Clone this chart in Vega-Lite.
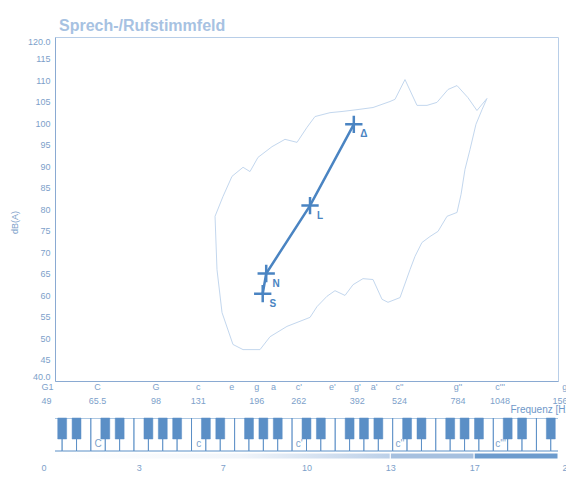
{
  "$schema": "https://vega.github.io/schema/vega-lite/v6.json",
  "padding": {"left": 9, "top": 17, "right": 0, "bottom": 0},
  "background": "white",
  "config": {
    "font": "Liberation Sans",
    "view": {"stroke": "#b8cee8"},
    "axis": {
      "labelFont": "Liberation Sans",
      "labelColor": "#7d9fca",
      "labelFontSize": 9,
      "titleFont": "Liberation Sans",
      "titleColor": "#7d9fca",
      "titleFontSize": 9,
      "titleFontWeight": "normal",
      "domainColor": "#8aaad2",
      "ticks": false,
      "grid": false,
      "labelOverlap": false
    }
  },
  "bounds": "flush",
  "spacing": 37,
  "vconcat": [
    {
      "width": 503,
      "height": 344,
      "title": {"text": "Sprech-/Rufstimmfeld", "anchor": "start", "frame": "group", "dx": 4, "fontSize": 16, "fontWeight": "bold", "color": "#a7c2e2", "offset": 3, "font": "Liberation Sans"},
      "encoding": {
        "x": {
          "field": "f", "type": "quantitative",
          "scale": {"type": "log", "domain": [49, 1568], "nice": false},
          "axis": {
            "values": [49, 65.5, 98, 131, 165, 196, 220, 262, 330, 392, 440, 524, 784, 1048, 1568],
            "labelExpr": "datum.value == 49 ? [\"G1\",\"49\"] : datum.value == 65.5 ? [\"C\",\"65.5\"] : datum.value == 98 ? [\"G\",\"98\"] : datum.value == 131 ? [\"c\",\"131\"] : datum.value == 165 ? [\"e\",\"\"] : datum.value == 196 ? [\"g\",\"196\"] : datum.value == 220 ? [\"a\",\"\"] : datum.value == 262 ? [\"c'\",\"262\"] : datum.value == 330 ? [\"e'\",\"\"] : datum.value == 392 ? [\"g'\",\"392\"] : datum.value == 440 ? [\"a'\",\"\"] : datum.value == 524 ? [\"c''\",\"524\"] : datum.value == 784 ? [\"g''\",\"784\"] : datum.value == 1048 ? [\"c'''\",\"1048\"] : [\"g'''\",\"1568\"]",
            "labelOverlap": false,
            "labelFlush": true,
            "labelFlushOffset": 14,
            "labelPadding": 1,
            "labelLineHeight": 14,
            "title": "Frequenz [Hz]",
            "titleX": 455,
            "titleY": 28,
            "titleAlign": "left",
            "titleBaseline": "middle",
            "titleFontSize": 10,
            "titleColor": "#6f98c9"
          }
        },
        "y": {
          "field": "db", "type": "quantitative",
          "scale": {"domain": [40, 120], "nice": false, "zero": false},
          "axis": {
            "values": [40, 45, 50, 55, 60, 65, 70, 75, 80, 85, 90, 95, 100, 105, 110, 115, 120],
            "tickCount": 17,
            "labelExpr": "datum.value == 120 || datum.value == 40 ? format(datum.value, '.1f') : format(datum.value, 'd')",
            "labelOverlap": false,
            "labelFlush": true,
            "labelPadding": 5,
            "title": "dB(A)",
            "titlePadding": 8,
            "titleY": 185
          }
        }
      },
      "layer": [
        {
          "data": {"values": [
            {"f":147.6,"db":78.3,"o":1},{"f":155.9,"db":82.9,"o":2},{"f":165.9,"db":87.6,"o":3},{"f":179,"db":89.7,"o":4},
            {"f":187.8,"db":88.7,"o":5},{"f":198.4,"db":92,"o":6},{"f":218.6,"db":94.5,"o":7},{"f":239,"db":96.2,"o":8},
            {"f":259.7,"db":95.5,"o":9},{"f":278.2,"db":99,"o":10},{"f":293.9,"db":101.5,"o":11},{"f":325.9,"db":102.4,"o":12},
            {"f":356.4,"db":102.7,"o":13},{"f":392.5,"db":103.1,"o":14},{"f":438.3,"db":103.6,"o":15},{"f":492.7,"db":105,"o":16},
            {"f":510,"db":105.5,"o":17},{"f":546.4,"db":110.1,"o":18},{"f":593.5,"db":104.1,"o":19},{"f":636,"db":104.1,"o":20},
            {"f":681,"db":104.8,"o":21},{"f":735,"db":107.8,"o":22},{"f":782,"db":108.7,"o":23},{"f":843,"db":105.9,"o":24},
            {"f":897,"db":102.9,"o":25},{"f":961,"db":105.7,"o":26},{"f":929,"db":103.1,"o":27},{"f":891,"db":99.7,"o":28},
            {"f":855,"db":93.8,"o":29},{"f":826,"db":89.2,"o":30},{"f":804,"db":83.4,"o":31},{"f":782,"db":79.2,"o":32},
            {"f":730,"db":78.3,"o":33},{"f":686,"db":74.8,"o":34},{"f":649,"db":73.6,"o":35},{"f":614,"db":72.2,"o":36},
            {"f":585.5,"db":69,"o":37},{"f":565.6,"db":65.9,"o":38},{"f":528,"db":59.4,"o":39},{"f":486,"db":58.3,"o":40},
            {"f":466.4,"db":59,"o":41},{"f":438.3,"db":63.6,"o":42},{"f":409,"db":63.8,"o":43},{"f":382,"db":62.4,"o":44},
            {"f":361.4,"db":59.9,"o":45},{"f":337.3,"db":61,"o":46},{"f":319.2,"db":59.7,"o":47},{"f":298,"db":57.3,"o":48},
            {"f":284,"db":54.8,"o":49},{"f":242.3,"db":52.7,"o":50},{"f":215.6,"db":50.3,"o":51},{"f":201.2,"db":47.3,"o":52},
            {"f":179,"db":47.3,"o":53},{"f":167,"db":48.5,"o":54},{"f":154.9,"db":55.9,"o":55},{"f":149.6,"db":65.9,"o":56},
            {"f":147.6,"db":78.3,"o":57}
          ]},
          "mark": {"type": "line", "color": "#c3d7ee", "strokeWidth": 1},
          "encoding": {
            "order": {"field": "o", "type": "quantitative"}
          }
        },
        {
          "data": {"values": [
            {"p": "S", "f": 205, "db": 60.3, "o": 1},
            {"p": "N", "f": 210, "db": 65, "o": 2},
            {"p": "L", "f": 284, "db": 80.8, "o": 3},
            {"p": "Δ", "f": 384, "db": 99.7, "o": 4}
          ]},
          "layer": [
            {
              "mark": {"type": "line", "color": "#4a84c2", "strokeWidth": 2.5},
              "encoding": {
                "order": {"field": "o", "type": "quantitative"}
              }
            },
            {
              "mark": {"type": "point", "shape": "M-1,0L1,0M0,-1L0,1", "filled": false, "stroke": "#4a84c2", "strokeWidth": 2.5, "size": 300, "opacity": 1},
              "encoding": {}
            },
            {
              "mark": {"type": "text", "dx": 10, "dy": 10, "fontWeight": "bold", "fontSize": 10, "color": "#4a84c2", "font": "Liberation Sans"},
              "encoding": {
                "text": {"field": "p"}
              }
            }
          ]
        }
      ]
    },
    {
      "width": 503,
      "height": 41,
      "view": {"stroke": null},
      "resolve": {"scale": {"x": "independent"}, "axis": {"x": "independent"}},
      "layer": [
        {
          "layer": [
            {
              "data": {"values": [
                {"k0":-0.5,"k1":0.5},{"k0":0.5,"k1":1.5},{"k0":1.5,"k1":2.5},{"k0":2.5,"k1":3.5},{"k0":3.5,"k1":4.5},{"k0":4.5,"k1":5.5},
                {"k0":5.5,"k1":6.5},{"k0":6.5,"k1":7.5},{"k0":7.5,"k1":8.5},{"k0":8.5,"k1":9.5},{"k0":9.5,"k1":10.5},{"k0":10.5,"k1":11.5},
                {"k0":11.5,"k1":12.5},{"k0":12.5,"k1":13.5},{"k0":13.5,"k1":14.5},{"k0":14.5,"k1":15.5},{"k0":15.5,"k1":16.5},{"k0":16.5,"k1":17.5},
                {"k0":17.5,"k1":18.5},{"k0":18.5,"k1":19.5},{"k0":19.5,"k1":20.5},{"k0":20.5,"k1":21.5},{"k0":21.5,"k1":22.5},{"k0":22.5,"k1":23.5},
                {"k0":23.5,"k1":24.5},{"k0":24.5,"k1":25.5},{"k0":25.5,"k1":26.5},{"k0":26.5,"k1":27.5},{"k0":27.5,"k1":28.5},{"k0":28.5,"k1":29.5},
                {"k0":29.5,"k1":30.5},{"k0":30.5,"k1":31.5},{"k0":31.5,"k1":32.5},{"k0":32.5,"k1":33.5},{"k0":33.5,"k1":34.5},{"k0":34.5,"k1":35.5}
              ]},
              "mark": {"type": "rect", "fill": "white", "stroke": "#5b8fc6", "strokeWidth": 1, "clip": true},
              "encoding": {
                "x": {"field": "k0", "type": "quantitative", "scale": {"domain": [0, 35], "nice": false, "zero": false}, "axis": null},
                "x2": {"field": "k1"},
                "y": {"datum": 8, "type": "quantitative", "scale": {"domain": [0, 41], "nice": false}, "axis": null},
                "y2": {"datum": 41}
              }
            },
            {
              "data": {"values": [
                {"k0":0.19,"k1":0.81},{"k0":1.19,"k1":1.81},{"k0":3.19,"k1":3.81},{"k0":4.19,"k1":4.81},{"k0":6.19,"k1":6.81},
                {"k0":7.19,"k1":7.81},{"k0":8.19,"k1":8.81},{"k0":10.19,"k1":10.81},{"k0":11.19,"k1":11.81},{"k0":13.19,"k1":13.81},
                {"k0":14.19,"k1":14.81},{"k0":15.19,"k1":15.81},{"k0":17.19,"k1":17.81},{"k0":18.19,"k1":18.81},{"k0":20.19,"k1":20.81},
                {"k0":21.19,"k1":21.81},{"k0":22.19,"k1":22.81},{"k0":24.19,"k1":24.81},{"k0":25.19,"k1":25.81},{"k0":27.19,"k1":27.81},
                {"k0":28.19,"k1":28.81},{"k0":29.19,"k1":29.81},{"k0":31.19,"k1":31.81},{"k0":32.19,"k1":32.81},{"k0":34.19,"k1":34.81}
              ]},
              "mark": {"type": "rect", "fill": "#5b8fc6", "stroke": "#5b8fc6", "strokeWidth": 0.5},
              "encoding": {
                "x": {"field": "k0", "type": "quantitative", "axis": null},
                "x2": {"field": "k1"},
                "y": {"datum": 20, "type": "quantitative", "axis": null},
                "y2": {"datum": 41}
              }
            },
            {
              "data": {"values": [
                {"k": 3, "t": "C"}, {"k": 10, "t": "c"}, {"k": 17, "t": "c'"}, {"k": 24, "t": "c''"}, {"k": 31, "t": "c'''"}
              ]},
              "mark": {"type": "text", "fontSize": 10, "color": "#7d9fca", "baseline": "middle", "font": "Liberation Sans"},
              "encoding": {
                "x": {"field": "k", "type": "quantitative", "axis": null},
                "y": {"datum": 15, "type": "quantitative", "axis": null},
                "text": {"field": "t"}
              }
            }
          ]
        },
        {
          "layer": [
            {
              "data": {"values": [{"s0": 0, "s1": 4}]},
              "mark": {
                "type": "rect",
                "stroke": "white",
                "strokeWidth": 1,
                "fill": {"gradient": "linear", "x1": 0, "y1": 0, "x2": 1, "y2": 0,
                  "stops": [{"offset": 0, "color": "#ffffff"}, {"offset": 0.55, "color": "#f1f5fa"}, {"offset": 1, "color": "#bcd0e8"}]}
              },
              "encoding": {
                "x": {
                  "field": "s0", "type": "quantitative",
                  "scale": {"domain": [0, 6], "nice": false, "zero": false},
                  "axis": {
                    "orient": "bottom",
                    "values": [0, 1, 2, 3, 4, 5, 6],
                    "labelExpr": "datum.value == 0 ? '0' : datum.value == 1 ? '3' : datum.value == 2 ? '7' : datum.value == 3 ? '10' : datum.value == 4 ? '13' : datum.value == 5 ? '17' : '20'",
                    "labelOverlap": false,
                    "labelFlush": true,
                    "labelFlushOffset": 14,
                    "labelPadding": 4,
                    "domain": false,
                    "title": null
                  }
                },
                "x2": {"field": "s1"},
                "y": {"datum": 0, "type": "quantitative", "axis": null},
                "y2": {"datum": 6}
              }
            },
            {
              "data": {"values": [{"s0": 4, "s1": 5, "c": "13-17"}, {"s0": 5, "s1": 6, "c": "17-20"}]},
              "mark": {"type": "rect", "stroke": "white", "strokeWidth": 1},
              "encoding": {
                "x": {"field": "s0", "type": "quantitative"},
                "x2": {"field": "s1"},
                "y": {"datum": 0, "type": "quantitative", "axis": null},
                "y2": {"datum": 6},
                "color": {"field": "c", "type": "nominal", "scale": {"domain": ["13-17", "17-20"], "range": ["#a6c0df", "#6c9bcd"]}, "legend": null}
              }
            }
          ]
        }
      ]
    }
  ]
}
